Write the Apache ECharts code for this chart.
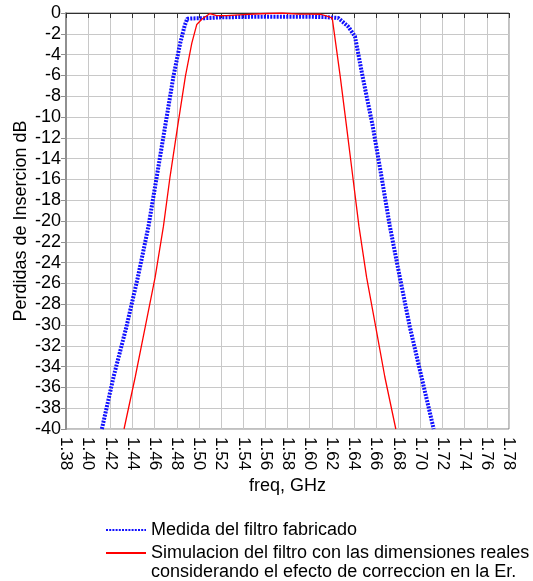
<!DOCTYPE html>
<html>
<head>
<meta charset="utf-8">
<script src="https://cdn.jsdelivr.net/npm/echarts@6/dist/echarts.min.js"></script>
<style>html,body{margin:0;padding:0;background:#fff}#c{width:533px;height:581px}</style>
</head>
<body>
<div id="c"></div>
<script>
// Measured filter (blue dotted)
const measFreq = [1.4124, 1.4229, 1.4345, 1.4449, 1.4545, 1.4620, 1.4695, 1.4770, 1.4831, 1.4872, 1.4895, 1.495, 1.505, 1.52, 1.54, 1.56, 1.58, 1.60, 1.615, 1.6258, 1.6348, 1.6409, 1.6478, 1.6570, 1.6648, 1.6724, 1.6814, 1.6905, 1.7010, 1.7120];
const measDb   = [-40, -35.0, -30.2, -25.4, -20.5, -15.7, -10.9, -6.1, -2.9, -1.2, -0.55, -0.52, -0.5, -0.42, -0.38, -0.35, -0.35, -0.36, -0.4, -0.48, -1.3, -2.25, -6.1, -10.9, -15.7, -20.5, -25.4, -30.2, -35.0, -40];
// Simulation (red solid)
const simFreq = [1.4324, 1.4425, 1.4515, 1.4605, 1.4680, 1.4740, 1.4808, 1.4878, 1.4936, 1.4981, 1.5026, 1.510, 1.516, 1.525, 1.54, 1.56, 1.575, 1.59, 1.60, 1.61, 1.617, 1.6204, 1.6276, 1.6333, 1.6389, 1.6445, 1.6514, 1.6597, 1.6679, 1.6778];
const simDb   = [-40, -35.0, -30.2, -25.4, -20.5, -15.7, -10.9, -6.1, -2.9, -1.1, -0.6, -0.05, -0.25, -0.25, -0.15, -0.05, 0, -0.1, -0.1, -0.12, -0.35, -0.5, -6.1, -10.9, -15.7, -20.5, -25.4, -30.2, -35.0, -40];

const seriesNames = ['Medida del filtro fabricado', 'Simulacion del filtro con las dimensiones reales\nconsiderando el efecto de correccion en la Er.'];
const xTickMin = 1.38, xTickMax = 1.78, xTickStep = 0.02;
const yTickMin = -40, yTickMax = 0, yTickStep = 2;

const zip = (a, b) => a.map((v, i) => [v, b[i]]);
const font = 'Liberation Sans, Arial, sans-serif';
const legendCommon = {
  orient: 'vertical', left: 105, padding: 0, itemWidth: 40, itemHeight: 14, itemGap: 5,
  itemStyle: {opacity: 0},
  textStyle: {fontFamily: font, fontSize: 18, color: '#000', lineHeight: 19}
};

const chart = echarts.init(document.getElementById('c'), null, {renderer: 'canvas'});
chart.setOption({
  animation: false,
  backgroundColor: '#fff',
  grid: {left: 66, right: 24, top: 13, bottom: 152, show: true, borderColor: '#808080', borderWidth: 1},
  xAxis: {
    type: 'value', min: xTickMin, max: xTickMax, interval: xTickStep,
    name: 'freq, GHz', nameLocation: 'middle', nameGap: 48, nameMoveOverlap: false,
    nameTextStyle: {fontFamily: font, fontSize: 18, color: '#000'},
    axisLine: {show: true, lineStyle: {color: '#303030', width: 1}},
    axisTick: {show: true, length: 5, lineStyle: {color: '#303030'}},
    axisLabel: {rotate: -90, margin: 8, fontFamily: font, fontSize: 17, color: '#000',
      formatter: v => v.toFixed(2)},
    splitLine: {show: true, lineStyle: {color: '#c8c8c8', width: 1}}
  },
  yAxis: {
    type: 'value', min: yTickMin, max: yTickMax, interval: yTickStep,
    name: 'Perdidas de Insercion dB', nameLocation: 'middle', nameGap: 36, nameMoveOverlap: false,
    nameTextStyle: {fontFamily: font, fontSize: 18, color: '#000'},
    axisLine: {show: true, lineStyle: {color: '#909090', width: 2}},
    axisTick: {show: true, length: 5, lineStyle: {color: '#909090'}},
    axisLabel: {margin: 5, fontFamily: font, fontSize: 18, color: '#000'},
    splitLine: {show: true, lineStyle: {color: '#c8c8c8', width: 1}}
  },
  legend: [
    Object.assign({}, legendCommon, {top: 520.5, data: [{name: seriesNames[0]}]}),
    Object.assign({}, legendCommon, {top: 524.5, data: [{name: seriesNames[1]}],
      formatter: name => ' \n' + name})
  ],
  series: [
    {name: seriesNames[0], type: 'line', data: zip(measFreq, measDb), symbol: 'none', z: 3,
      lineStyle: {color: '#1010ff', width: 4, type: [2, 1.2]}, itemStyle: {color: '#1010ff'}},
    {name: seriesNames[1], type: 'line', data: zip(simFreq, simDb), symbol: 'none', z: 4,
      lineStyle: {color: '#ff0000', width: 1.3}, itemStyle: {color: '#ff0000'}}
  ]
});
</script>
</body>
</html>
